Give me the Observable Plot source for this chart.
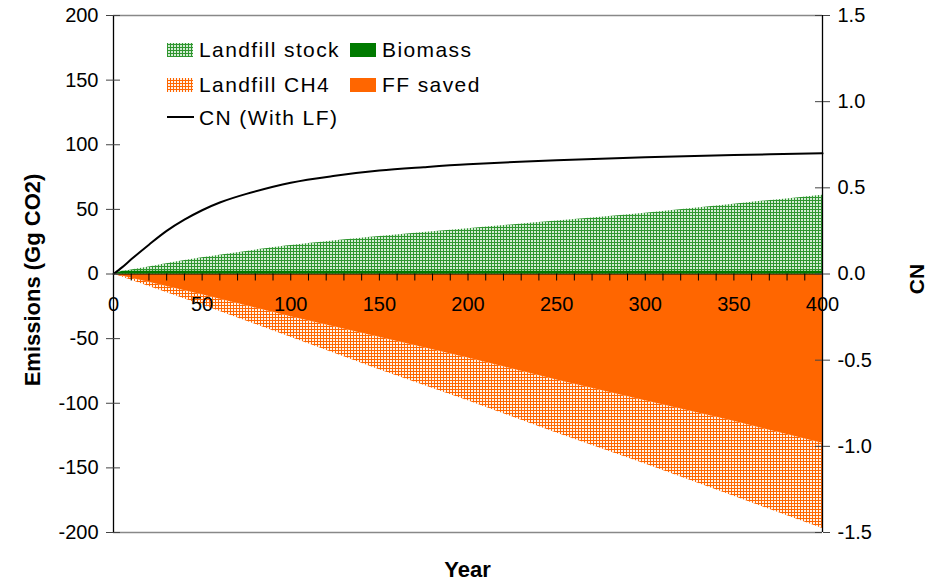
<!DOCTYPE html>
<html>
<head>
<meta charset="utf-8">
<script src="https://cdn.jsdelivr.net/npm/d3@7"></script>
<script src="https://cdn.jsdelivr.net/npm/@observablehq/plot@0.6"></script>
<style>
  html, body { margin: 0; padding: 0; background: #fff; }
  #chart { position: relative; width: 930px; height: 583px; }
</style>
</head>
<body>
<div id="chart"></div>
<script>
// ---- Data ----
const cnYears = [0, 5, 10, 20, 30, 40, 50, 60, 75, 100, 125, 150, 175, 200, 250, 300, 350, 400];
const cnWithLF = [0, 0.04, 0.085, 0.17, 0.25, 0.315, 0.37, 0.415, 0.465, 0.53, 0.57, 0.60, 0.62, 0.637, 0.66, 0.678, 0.69, 0.70];

const stockYears = [0, 10, 20, 30, 50, 75, 100, 150, 200, 250, 300, 350, 400];
const landfillStock = [0, 3, 5.5, 8, 12.5, 17.5, 22, 29, 35, 41, 47, 54, 61];

const flowYears = [0, 50, 100, 150, 200, 250, 300, 350, 400];
const ffSaved = [0, -16, -33, -49, -65, -82, -98, -114, -131];
const landfillCH4 = [0, -8, -16, -25, -33, -41, -49, -58, -66];

const biomassYears = [0, 5, 400];
const biomass = [0, 2.2, 2.2];

const xLabelTicks = [0, 50, 100, 150, 200, 250, 300, 350, 400];
const xMinorTicks = d3.range(10, 401, 10);
const leftTicks = [-200, -150, -100, -50, 0, 50, 100, 150, 200];
const rightTicks = [-1.5, -1.0, -0.5, 0.0, 0.5, 1.0, 1.5];

const legendItems = [
  {label: "Landfill stock", kind: "stock"},
  {label: "Biomass", kind: "biomass"},
  {label: "Landfill CH4", kind: "ch4"},
  {label: "FF saved", kind: "ff"},
  {label: "CN (With LF)", kind: "cn"}
];

// ---- Layout / styles ----
const W = 930, H = 583;
const mTop = 15, mBottom = 51, mLeft = 113, mRight = 108;
const yDomain = [-200, 200], xDomain = [0, 400];
const cnScale = 200 / 1.5; // right axis → left units
const yPerPx = (yDomain[1] - yDomain[0]) / (H - mTop - mBottom);
const xPerPx = (xDomain[1] - xDomain[0]) / (W - mLeft - mRight);
const tickPx = 7;
const ORANGE = "#ff6600", GREEN_DARK = "#007a00";
const fmt = (v, d) => v.toFixed(d).replace("−", "-");

const cnData = cnYears.map((x, i) => ({x, y: cnWithLF[i] * cnScale}));
const stockData = stockYears.map((x, i) => ({x, y: landfillStock[i]}));
const flowData = flowYears.map((x, i) => ({x, ff: ffSaved[i], ch4: ffSaved[i] + landfillCH4[i]}));
const bioData = biomassYears.map((x, i) => ({x, y: biomass[i]}));

const plot = Plot.plot({
  width: W, height: H,
  marginTop: mTop, marginBottom: mBottom, marginLeft: mLeft, marginRight: mRight,
  x: {domain: xDomain, axis: null},
  y: {domain: yDomain, axis: null},
  style: {fontFamily: "'Liberation Sans', Arial, sans-serif", fontSize: "20px", color: "#000", background: "#fff"},
  marks: [
    Plot.areaY(flowData, {x: "x", y1: "ff", y2: "ch4", fill: "url(#patOrange)"}),
    Plot.areaY(flowData, {x: "x", y1: 0, y2: "ff", fill: ORANGE}),
    Plot.areaY(stockData, {x: "x", y1: 0, y2: "y", fill: "url(#patGreen)", curve: "catmull-rom"}),
    Plot.ruleY([0], {stroke: "#000", strokeWidth: 1}),
    Plot.areaY(bioData, {x: "x", y1: 0, y2: "y", fill: GREEN_DARK}),
    Plot.ruleX(xMinorTicks, {x: d => d, y1: 0, y2: -tickPx * yPerPx, stroke: "#000"}),
    Plot.text(xLabelTicks, {x: d => d, y: 0, dy: 31, text: d => String(d), fontSize: 20}),
    Plot.line(cnData, {x: "x", y: "y", stroke: "#000", strokeWidth: 2, curve: "catmull-rom"}),
    // frame
    Plot.ruleY([yDomain[0], yDomain[1]], {stroke: "#888", strokeWidth: 1.5}),
    Plot.ruleX([xDomain[0], xDomain[1]], {stroke: "#000", strokeWidth: 1.3}),
    // left axis
    Plot.axisY(leftTicks, {anchor: "left", tickSize: tickPx, tickPadding: 8, fontSize: 20,
      tickFormat: d => fmt(d, 0), label: null, stroke: "#444"}),
    Plot.ruleY(leftTicks, {y: d => d, x1: xDomain[0], x2: xDomain[0] + tickPx * xPerPx, stroke: "#444"}),
    // right axis (CN)
    Plot.axisY(rightTicks.map(v => v * cnScale), {anchor: "right", tickSize: tickPx, tickPadding: 8, fontSize: 20,
      tickFormat: d => fmt(d / cnScale, 1), label: null, stroke: "#444"}),
    Plot.ruleY(rightTicks.map(v => v * cnScale), {y: d => d, x1: xDomain[1] - tickPx * xPerPx, x2: xDomain[1], stroke: "#444"})
  ]
});

document.getElementById("chart").appendChild(plot);

// ---- Patterns, titles and legend added into the SVG ----
const svg = d3.select(plot);
const defs = svg.insert("defs", ":first-child");
const pg = defs.append("pattern").attr("id", "patGreen").attr("patternUnits", "userSpaceOnUse")
  .attr("width", 3).attr("height", 3);
pg.append("rect").attr("width", 3).attr("height", 3).attr("fill", "#2f962f");
pg.append("rect").attr("width", 2).attr("height", 2).attr("fill", "#d4ecd4");
const po = defs.append("pattern").attr("id", "patOrange").attr("patternUnits", "userSpaceOnUse")
  .attr("width", 3).attr("height", 3);
po.append("rect").attr("width", 3).attr("height", 3).attr("fill", ORANGE);
po.append("rect").attr("width", 2).attr("height", 2).attr("fill", "#fff3ea");

const titleFont = "'Liberation Sans', Arial, sans-serif";
svg.append("text").attr("transform", `translate(40,280) rotate(-90)`)
  .attr("text-anchor", "middle").attr("font-family", titleFont).attr("font-weight", "bold")
  .attr("font-size", 22).text("Emissions (Gg CO2)");
svg.append("text").attr("transform", `translate(924,279) rotate(-90)`)
  .attr("text-anchor", "middle").attr("font-family", titleFont).attr("font-weight", "bold")
  .attr("font-size", 21).text("CN");
svg.append("text").attr("x", mLeft + (W - mLeft - mRight) / 2).attr("y", 577)
  .attr("text-anchor", "middle").attr("font-family", titleFont).attr("font-weight", "bold")
  .attr("font-size", 22).text("Year");

const fills = {stock: "url(#patGreen)", biomass: GREEN_DARK, ch4: "url(#patOrange)", ff: ORANGE};
const lg = svg.append("g").attr("font-family", titleFont).attr("font-size", 21)
  .attr("letter-spacing", "1.4px").attr("text-anchor", "start");
const cols = [167, 350], rows = [43, 78, 111];
legendItems.forEach((d, i) => {
  const col = d.kind === "cn" ? 0 : i % 2;
  const row = d.kind === "cn" ? 2 : Math.floor(i / 2);
  const x0 = cols[col], y0 = rows[row];
  if (d.kind === "cn") {
    lg.append("line").attr("x1", x0).attr("x2", x0 + 27).attr("y1", y0 + 6).attr("y2", y0 + 6)
      .attr("stroke", "#000").attr("stroke-width", 2);
  } else {
    lg.append("rect").attr("x", x0).attr("y", y0).attr("width", 26).attr("height", 14).attr("fill", fills[d.kind]);
  }
  lg.append("text").attr("x", x0 + 32).attr("y", y0 + 14).attr("text-anchor", "start").text(d.label);
});
</script>
</body>
</html>
